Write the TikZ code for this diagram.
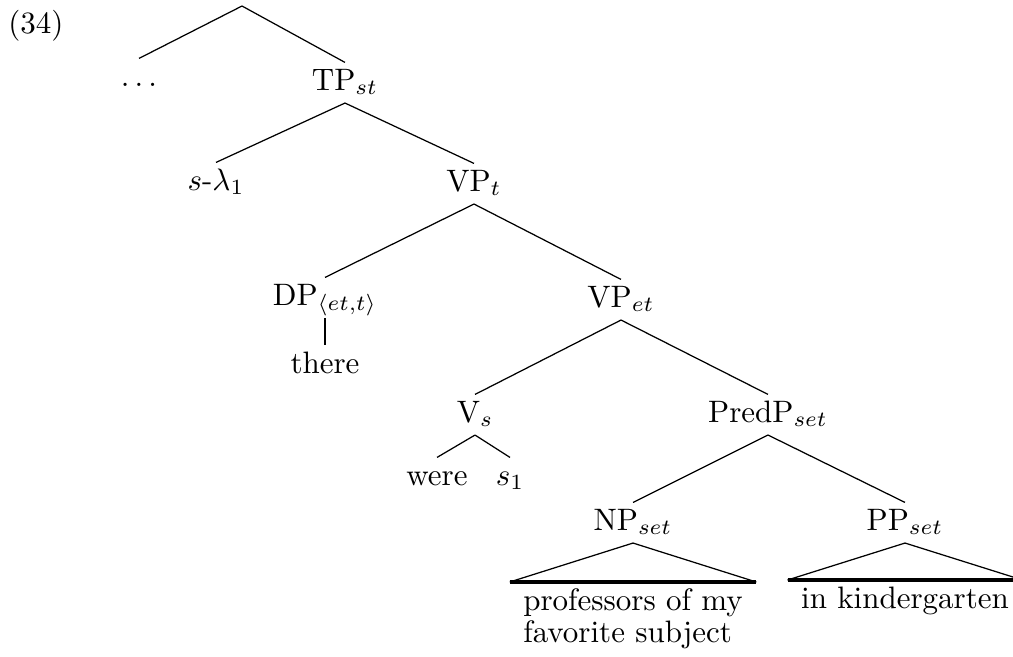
\documentclass[tikz,border=0pt]{standalone}
\usepackage{amsmath}
\usepackage{tikz}

\begin{document}
\begin{tikzpicture}[
    x=0.3226pt, y=-0.3226pt,
    cat/.style={anchor=base, inner sep=1.5pt, text height=7.2pt, text depth=2.5pt},
    roofbox/.style={anchor=north, inner xsep=4.2pt, inner ysep=2pt, align=left,
      font={\fontsize{10pt}{10.3pt}\selectfont}},
    roof/.style={line width=1pt},
    line width=0.4pt
  ]
    \useasboundingbox (0,0) rectangle (1013,656);
    \node[anchor=base, inner sep=0pt] (ex) at (36,33) {(34)};
    \coordinate (root) at (242,6);
    \node[cat] (dots) at (139,86) {$\ldots$};
    \node[cat] (tp) at (345,90) {TP$_{st}$};
    \node[cat] (slam) at (216,190) {$s$-$\lambda_1$};
    \node[cat] (vpt) at (474,191) {VP$_t$};
    \node[cat] (dp) at (325,305) {DP$_{\langle et,t\rangle}$};
    \node[cat] (there) at (325,373) {there};
    \node[cat] (vpet) at (621,307) {VP$_{et}$};
    \node[cat] (vs) at (475,422) {V$_s$};
    \node[cat] (predp) at (768,422) {PredP$_{set}$};
    \node[cat] (were) at (437,485) {were};
    \node[cat] (sone) at (510,485) {$s_1$};
    \node[cat] (np) at (633,530) {NP$_{set}$};
    \node[cat] (pp) at (905,530) {PP$_{set}$};
    \node[roofbox] (profs) at (633,582) {professors of my\\favorite subject};
    \node[roofbox] (kinder) at (905,580) {in kindergarten};
    \draw (root) -- (dots.north);
    \draw (root) -- (tp.north);
    \draw (tp.south) -- (slam.north);
    \draw (tp.south) -- (vpt.north);
    \draw (vpt.south) -- (dp.north);
    \draw (vpt.south) -- (vpet.north);
    \draw (dp.south) -- (there.north);
    \draw (vpet.south) -- (vs.north);
    \draw (vpet.south) -- (predp.north);
    \draw (vs.south) -- (were.north);
    \draw (vs.south) -- (sone.north);
    \draw (predp.south) -- (np.north);
    \draw (predp.south) -- (pp.north);
    \draw (np.south) -- (profs.north west);
    \draw (np.south) -- (profs.north east);
    \draw[roof] (profs.north west) -- (profs.north east);
    \draw (pp.south) -- (kinder.north west);
    \draw (pp.south) -- (kinder.north east);
    \draw[roof] (kinder.north west) -- (kinder.north east);
  \end{tikzpicture}
\end{document}
